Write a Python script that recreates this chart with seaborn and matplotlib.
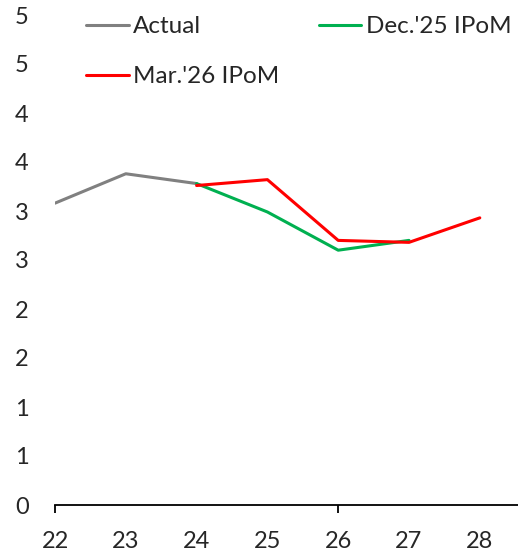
import numpy as np
import pandas as pd
import seaborn as sns
import matplotlib.pyplot as plt
from matplotlib.ticker import FuncFormatter, MultipleLocator, FixedLocator

# data
years = [22, 23, 24, 25, 26, 27, 28]
actual_x = [22, 23, 24]
actual_y = [3.08, 3.38, 3.28]
dec_x = [24, 25, 26, 27]
dec_y = [3.28, 2.99, 2.60, 2.70]
mar_x = [24, 25, 26, 27, 28]
mar_y = [3.26, 3.32, 2.70, 2.68, 2.93]

sns.set_style("white")
plt.rcParams['font.family'] = ['Lato', 'DejaVu Sans']

fig = plt.figure(figsize=(5.18, 5.56), dpi=100)
ax = fig.add_axes([55 / 518, 51 / 556, 463 / 518, 490 / 556])

sns.lineplot(x=actual_x, y=actual_y, color='#808080', linewidth=2.2, label='Actual', ax=ax)
sns.lineplot(x=dec_x, y=dec_y, color='#00B050', linewidth=2.2, label="Dec.'25 IPoM", ax=ax)
sns.lineplot(x=mar_x, y=mar_y, color='#FF0000', linewidth=2.2, label="Mar.'26 IPoM", ax=ax)

ax.set_xlim(22, 22 + 463 / 70.8)
ax.set_ylim(0, 5)

# excel style rounding of the y labels
ax.yaxis.set_major_locator(MultipleLocator(0.5))
ax.yaxis.set_major_formatter(FuncFormatter(lambda v, p: str(int(np.floor(v + 0.5)))))
ax.set_xticks(years)
ax.set_xticklabels([str(y) for y in years])
ax.xaxis.remove_overlapping_locs = False
ax.xaxis.set_minor_locator(FixedLocator([22, 26]))

ax.tick_params(axis='y', length=0, pad=24, labelsize=17, colors='#262626')
ax.tick_params(axis='x', which='major', bottom=True, length=0, pad=19, labelsize=17, colors='#262626')
ax.tick_params(axis='x', which='minor', bottom=True, length=6, width=1.3, direction='out', color='black')
for lab in ax.get_yticklabels():
    lab.set_horizontalalignment('center')

for s in ['top', 'right', 'left']:
    ax.spines[s].set_visible(False)
ax.spines['bottom'].set_color('black')
ax.spines['bottom'].set_linewidth(1.3)
ax.set_xlabel('')
ax.set_ylabel('')

handles, labels = ax.get_legend_handles_labels()
ax.legend_.remove()
order = [0, 2, 1]
fig.legend([handles[i] for i in order], [labels[i] for i in order], ncol=2,
           loc='upper left', bbox_to_anchor=(86 / 518, 1 - 16 / 556), frameon=False,
           fontsize=17.5, handlelength=1.75, handletextpad=0.2, columnspacing=1.6,
           labelspacing=1.2, borderpad=0, borderaxespad=0, labelcolor='#262626')

fig.savefig('out.png', dpi=100)
